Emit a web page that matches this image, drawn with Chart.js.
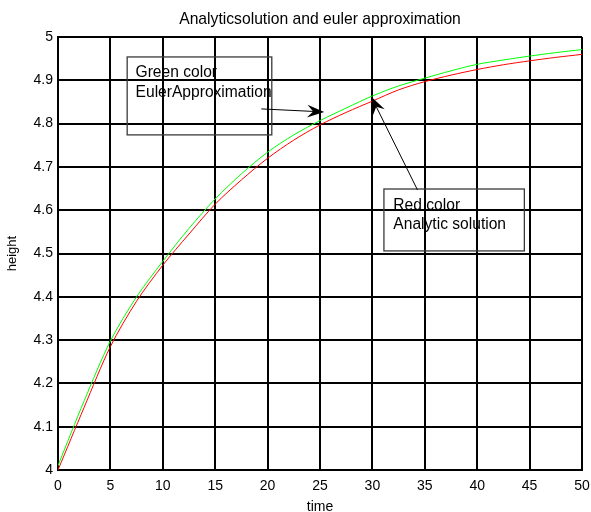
<!DOCTYPE html>
<html>
<head>
<meta charset="utf-8">
<script src="https://cdn.jsdelivr.net/npm/chart.js@4"></script>
<style>
  html, body { margin: 0; padding: 0; background: #fff; }
  #wrap { width: 591px; height: 512px; }
</style>
</head>
<body>
<div id="wrap"><canvas id="eulerChart"></canvas></div>
<script>
// values
var times = [0, 2.5, 5, 7.5, 10, 12.5, 15, 17.5, 20, 22.5, 25, 27.5, 30, 32.5, 35, 37.5, 40, 42.5, 45, 47.5, 50];
var analytic = [4.000, 4.145, 4.285, 4.390, 4.473, 4.545, 4.614, 4.670, 4.720, 4.762, 4.797, 4.826, 4.852, 4.878, 4.897, 4.912, 4.925, 4.936, 4.945, 4.953, 4.960];
var euler = [4.010, 4.160, 4.298, 4.400, 4.482, 4.558, 4.626, 4.684, 4.734, 4.774, 4.807, 4.836, 4.864, 4.887, 4.905, 4.922, 4.937, 4.947, 4.956, 4.964, 4.971];
var xTicks = [0, 5, 10, 15, 20, 25, 30, 35, 40, 45, 50];
var yTicks = [4, 4.1, 4.2, 4.3, 4.4, 4.5, 4.6, 4.7, 4.8, 4.9, 5];

// text boxes and arrows, in data units
var notes = [
    { box: [6.6, 4.954, 20.4, 4.774], lines: ['Green color', 'EulerApproximation'], at: [7.4, 4.935] },
    { box: [31.1, 4.649, 44.5, 4.506], lines: ['Red color', 'Analytic solution'], at: [32.0, 4.629] }
];
var arrows = [
    { from: [19.4, 4.834], to: [25.4, 4.827] },
    { from: [34.3, 4.647], to: [29.9, 4.862] }
];

function toPoints(xs, ys) {
    let pts = [];
    for (let i = 0; i < xs.length; i++) {
        pts.push({ x: xs[i], y: ys[i] });
    }
    return pts;
}

var FONT = '"Liberation Sans", Arial, sans-serif';

const notesPlugin = {
    id: 'notes',
    afterDatasetsDraw(chart) {
        const ctx = chart.ctx;
        const xs = chart.scales.x, ys = chart.scales.y;
        ctx.save();
        notes.forEach(n => {
            let x1 = xs.getPixelForValue(n.box[0]), y1 = ys.getPixelForValue(n.box[1]);
            let x2 = xs.getPixelForValue(n.box[2]), y2 = ys.getPixelForValue(n.box[3]);
            ctx.strokeStyle = '#3a3a3a';
            ctx.lineWidth = 1.3;
            ctx.strokeRect(x1, y1, x2 - x1, y2 - y1);
            ctx.fillStyle = '#000';
            ctx.font = '15.6px ' + FONT;
            ctx.textBaseline = 'top';
            let tx = xs.getPixelForValue(n.at[0]), ty = ys.getPixelForValue(n.at[1]);
            n.lines.forEach((s, i) => ctx.fillText(s, tx, ty + i * 19.4));
        });
        arrows.forEach(a => {
            let fx = xs.getPixelForValue(a.from[0]), fy = ys.getPixelForValue(a.from[1]);
            let tx = xs.getPixelForValue(a.to[0]), ty = ys.getPixelForValue(a.to[1]);
            let ang = Math.atan2(ty - fy, tx - fx);
            let len = 17, half = 6.5;
            let bx = tx - len * Math.cos(ang), by = ty - len * Math.sin(ang);
            let nx = tx - len * 0.65 * Math.cos(ang), ny = ty - len * 0.65 * Math.sin(ang);
            ctx.strokeStyle = '#000';
            ctx.lineWidth = 1;
            ctx.beginPath();
            ctx.moveTo(fx, fy);
            ctx.lineTo(nx, ny);
            ctx.stroke();
            ctx.fillStyle = '#000';
            ctx.beginPath();
            ctx.moveTo(tx, ty);
            ctx.lineTo(bx - half * Math.sin(ang), by + half * Math.cos(ang));
            ctx.lineTo(nx, ny);
            ctx.lineTo(bx + half * Math.sin(ang), by - half * Math.cos(ang));
            ctx.closePath();
            ctx.fill();
        });
        ctx.restore();
    }
};

var ctx = document.getElementById('eulerChart');
var eulerChart = new Chart(ctx, {
    type: 'line',
    data: {
        datasets: [
            {
                label: 'Euler approximation',
                data: toPoints(times, euler),
                borderColor: '#00ff00',
                borderWidth: 1,
                pointRadius: 0,
                tension: 0.3,
                fill: false
            },
            {
                label: 'Analytic solution',
                data: toPoints(times, analytic),
                borderColor: '#ff0000',
                borderWidth: 1,
                pointRadius: 0,
                tension: 0.3,
                fill: false
            }
        ]
    },
    options: {
        responsive: true,
        maintainAspectRatio: false,
        animation: false,
        layout: {
            padding: { left: 0, right: 9, top: 0, bottom: 0 }
        },
        scales: {
            x: {
                type: 'linear',
                min: 0,
                max: 50,
                afterBuildTicks: s => { s.ticks = xTicks.map(v => ({ value: v })); },
                afterFit: s => { s.height = 42; s.paddingRight = 0; s.paddingLeft = 0; },
                border: { display: true, color: '#000', width: 2 },
                grid: { color: '#000', lineWidth: 2, drawTicks: false },
                ticks: {
                    color: '#000',
                    padding: 8,
                    font: { family: FONT, size: 14 }
                },
                title: {
                    display: true,
                    text: 'time',
                    color: '#000',
                    padding: { top: 0, bottom: -4 },
                    font: { family: FONT, size: 14 }
                }
            },
            y: {
                type: 'linear',
                min: 4,
                max: 5,
                afterBuildTicks: s => { s.ticks = yTicks.map(v => ({ value: v })); },
                afterFit: s => { s.width = 58; },
                border: { display: true, color: '#000', width: 2 },
                grid: { color: '#000', lineWidth: 2, drawTicks: false },
                ticks: {
                    color: '#000',
                    padding: 5,
                    font: { family: FONT, size: 14 },
                    callback: v => String(+v.toFixed(1))
                },
                title: {
                    display: true,
                    text: 'height',
                    color: '#000',
                    padding: { top: 5, bottom: 0 },
                    font: { family: FONT, size: 13 }
                }
            }
        },
        plugins: {
            legend: { display: false },
            tooltip: { enabled: false },
            title: {
                display: true,
                fullSize: false,
                text: 'Analyticsolution and euler approximation',
                color: '#000',
                padding: { top: 10, bottom: 8.2 },
                font: { family: FONT, size: 15.7, weight: 'normal' }
            }
        }
    },
    plugins: [notesPlugin]
});
</script>
</body>
</html>
